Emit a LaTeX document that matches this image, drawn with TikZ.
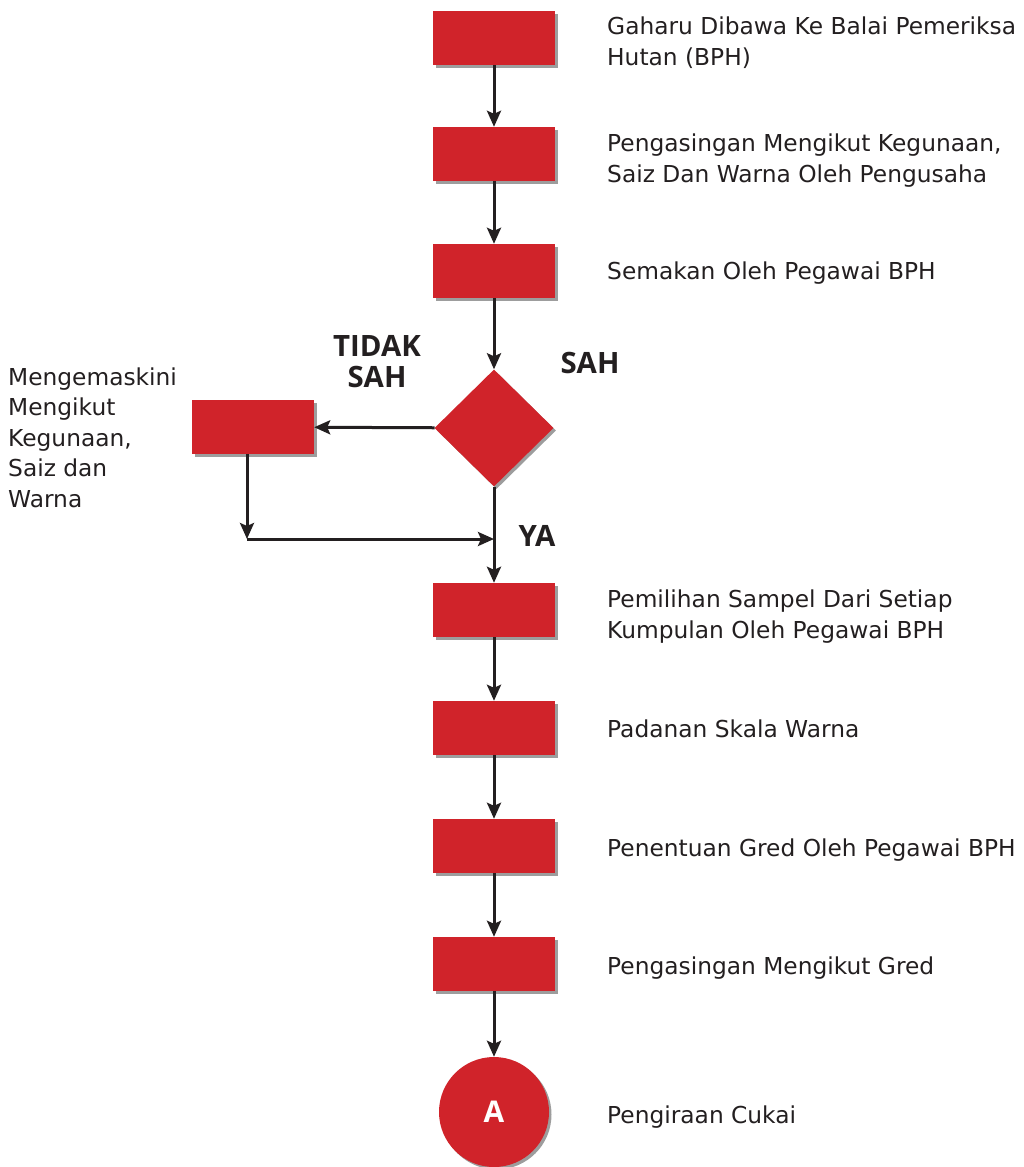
\documentclass[tikz,border=0pt]{standalone}
\usepackage{fontspec}
\setmainfont{DejaVu Sans}
\newfontfamily\boldlab{Open Sans}
\usetikzlibrary{shapes.geometric,shadows,arrows.meta}
\definecolor{boxred}{HTML}{D0232A}
\definecolor{ink}{HTML}{231F20}
\begin{document}
\begin{tikzpicture}[x=1bp,y=-1bp,
  shd/.style={drop shadow={shadow xshift=2.5bp,shadow yshift=-2.5bp,opacity=0.55,fill=black!70}},
  stepbox/.style={rectangle,fill=boxred,minimum width=122bp,minimum height=54bp,inner sep=0pt,shd},
  decide/.style={diamond,fill=boxred,minimum width=119bp,minimum height=117bp,inner sep=0pt,shd},
  term/.style={circle,fill=boxred,minimum size=110bp,inner sep=0pt,shd,text=white,font=\boldlab\fontsize{30}{30}\selectfont\bfseries},
  lab/.style={anchor=base west,align=left,text=ink,font=\fontsize{23.4}{30.5}\selectfont,inner sep=0pt},
  blab/.style={anchor=base,text=ink,font=\boldlab\fontsize{29.5}{31}\selectfont\bfseries,align=center,inner sep=0pt},
  conn/.style={draw=ink,line width=3bp,-{Stealth[length=16bp,width=14bp,inset=3bp]}}]
\useasboundingbox (0,0) rectangle (1024,1167);
\node[stepbox] (b1) at (494,38) {};
\node[stepbox] (b2) at (494,154) {};
\node[stepbox] (b3) at (494,271) {};
\node[decide] (d) at (494,428) {};
\node[stepbox] (bl) at (253,427) {};
\node[stepbox] (b4) at (494,610) {};
\node[stepbox] (b5) at (494,728) {};
\node[stepbox] (b6) at (494,846) {};
\node[stepbox] (b7) at (494,964) {};
\node[term] (c) at (494,1112) {A};
\coordinate (cl) at (247,539);
\coordinate (cr) at (494,539);

\node[lab] (t1) at (607,65) {Gaharu Dibawa Ke Balai Pemeriksa\\Hutan (BPH)};
\node[lab] (t2) at (607,182) {Pengasingan Mengikut Kegunaan,\\Saiz Dan Warna Oleh Pengusaha};
\node[lab] (t3) at (607,279) {Semakan Oleh Pegawai BPH};
\node[lab] (t4) at (607,638) {Pemilihan Sampel Dari Setiap\\Kumpulan Oleh Pegawai BPH};
\node[lab] (t5) at (607,737) {Padanan Skala Warna};
\node[lab] (t6) at (607,856) {Penentuan Gred Oleh Pegawai BPH};
\node[lab] (t7) at (607,974) {Pengasingan Mengikut Gred};
\node[lab] (t8) at (607,1123) {Pengiraan Cukai};
\node[lab] (tl) at (8,507) {Mengemaskini\\Mengikut\\Kegunaan,\\Saiz dan\\Warna};
\node[blab] (tidak) at (377,387) {TIDAK\\SAH};
\node[blab] (sah) at (590,373) {SAH};
\node[blab] (ya) at (537,546) {YA};

\draw[conn] (b1) -- (b2);
\draw[conn] (b2) -- (b3);
\draw[conn] (b3) -- (d);
\draw[conn] (d) -- (bl);
\draw[conn] (bl.south -| cl) -- (cl);
\draw[conn] (cl) -- (cr);
\draw[conn] (d) -- (b4);
\draw[conn] (b4) -- (b5);
\draw[conn] (b5) -- (b6);
\draw[conn] (b6) -- (b7);
\draw[conn] (b7) -- (c);
\end{tikzpicture}
\end{document}
